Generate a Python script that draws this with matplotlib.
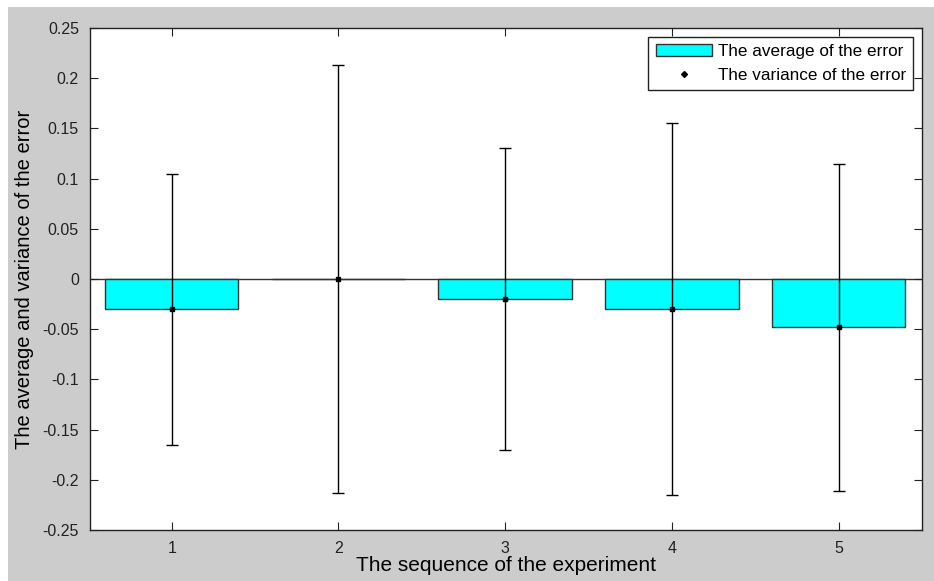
import matplotlib.pyplot as plt
from matplotlib.patches import Rectangle
from matplotlib.lines import Line2D

# data
experiments = [1, 2, 3, 4, 5]
avg_error = [-0.03, 0.0, -0.02, -0.03, -0.048]
var_error = [0.135, 0.213, 0.15, 0.185, 0.163]

plt.rcParams['font.family'] = ['Liberation Sans', 'DejaVu Sans']

fig = plt.figure(figsize=(9.34, 5.81), dpi=100)
fig.patch.set_facecolor('white')
# grey MATLAB style figure background, with a thin white border top/left
fig.patches.append(Rectangle((8 / 934, 0), 1 - 8 / 934, 1 - 7 / 581,
                             transform=fig.transFigure, facecolor='#cccccc',
                             edgecolor='none', zorder=-10))

ax = fig.add_axes([90 / 934, 51 / 581, 832 / 934, 502 / 581])
ax.set_facecolor('white')

ax.bar(experiments, avg_error, width=0.8, color='#00ffff', edgecolor='#333333',
       linewidth=1.0, zorder=2)
ax.axhline(0, color='#333333', linewidth=1.0, zorder=1)
ax.errorbar(experiments, avg_error, yerr=var_error, fmt='none', ecolor='black',
            elinewidth=1.0, capsize=4, capthick=1.0, zorder=3)
ax.plot(experiments, avg_error, linestyle='none', marker='s', markersize=3,
        color='black', zorder=4)

ax.set_xlim(0.51, 5.5)
ax.set_ylim(-0.25, 0.25)
ax.set_xticks(experiments)
ax.set_yticks([-0.25, -0.2, -0.15, -0.1, -0.05, 0, 0.05, 0.1, 0.15, 0.2, 0.25])
ax.set_yticklabels(['-0.25', '-0.2', '-0.15', '-0.1', '-0.05', '0',
                    '0.05', '0.1', '0.15', '0.2', '0.25'])
ax.tick_params(direction='in', top=True, right=True, length=6, width=0.8,
               labelsize=11.5, colors='#222222', pad=8)
for s in ax.spines.values():
    s.set_color('#222222')
    s.set_linewidth(1.0)

ax.set_xlabel('The sequence of the experiment', fontsize=15, labelpad=0)
ax.set_ylabel('The average and variance of the error', fontsize=14.5, labelpad=6)

handles = [Rectangle((0, 0), 1, 1, facecolor='#00ffff', edgecolor='#333333'),
           Line2D([], [], linestyle='none', marker='D', markersize=3, color='black')]
leg = ax.legend(handles, ['The average of the error', 'The variance of the error'],
                loc='upper right', fontsize=12.3, fancybox=False, framealpha=1,
                edgecolor='#222222', borderaxespad=0.5, handlelength=3.3,
                handletextpad=0.3, borderpad=0.45, labelspacing=0.5)
leg.get_frame().set_linewidth(1.0)

fig.savefig('out.png', dpi=100)
